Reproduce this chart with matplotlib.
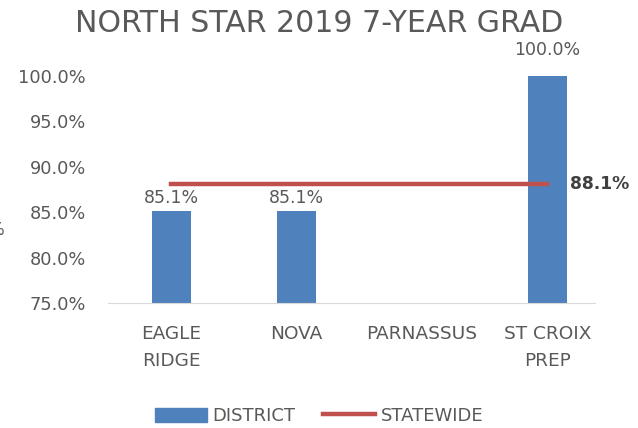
import matplotlib.pyplot as plt
from matplotlib.patches import Patch
from matplotlib.lines import Line2D

schools = ["EAGLE\nRIDGE", "NOVA", "PARNASSUS", "ST CROIX\nPREP"]
district = [85.1, 85.1, None, 100.0]
statewide = [88.1, 88.1, 88.1, 88.1]

BLUE = "#4F81BD"
RED = "#C0504D"
GREY = "#595959"

plt.rcParams["font.family"] = ["DejaVu Sans"]

fig = plt.figure(figsize=(6.38, 4.28), dpi=100)
ax = fig.add_axes([108 / 638, 1 - 303 / 428, 487 / 638, 227 / 428])

x = list(range(len(schools)))
bx = [i for i, v in zip(x, district) if v is not None]
bv = [v for v in district if v is not None]
ax.bar(bx, bv, width=0.31, color=BLUE, zorder=2)
for xi, v in zip(bx, bv):
    # label sitting at the axis top gets pushed up a bit more, like the original
    off = 12 if v >= 100 else 3
    ax.annotate(f"{v:.1f}%", (xi, v), xytext=(0, off),
                textcoords="offset points", ha="center", va="bottom",
                fontsize=12.5, color=GREY)

ax.plot(x, statewide, color=RED, linewidth=3.2, zorder=3)
ax.annotate(f"{statewide[-1]:.1f}%", (x[-1], statewide[-1]), xytext=(16, 0),
            textcoords="offset points", ha="left", va="center",
            fontsize=12.3, color="#404040", fontweight="bold")

ax.set_ylim(75, 100)
ax.set_xlim(-0.503, 3.38)
ax.set_yticks([75, 80, 85, 90, 95, 100])
ax.set_yticklabels([f"{t:.1f}%" for t in [75, 80, 85, 90, 95, 100]])
ax.set_xticks(x)
ax.set_xticklabels(schools, linespacing=1.65)
ax.tick_params(axis="both", length=0, labelsize=12.8, colors=GREY)
ax.tick_params(axis="x", pad=16, labelsize=13.3)
ax.tick_params(axis="y", pad=16)
for s in ["top", "right", "left"]:
    ax.spines[s].set_visible(False)
ax.spines["bottom"].set_color("#D9D9D9")

fig.text(0.5, 1 - 24 / 428, "NORTH STAR 2019 7-YEAR GRAD", ha="center",
         va="center", fontsize=21.6, color=GREY)
fig.text(-0.019, 1 - 230 / 428, "%", ha="left", va="center",
         fontsize=12, color=GREY)

handles = [Patch(color=BLUE), Line2D([0], [0], color=RED, linewidth=3.2)]
fig.legend(handles, ["DISTRICT", "STATEWIDE"], loc="center",
           bbox_to_anchor=(0.5, 1 - 416 / 428), ncol=2, frameon=False,
           fontsize=13, labelcolor=GREY, handlelength=2.9, handleheight=0.8,
           handletextpad=0.3, columnspacing=1.5)

plt.savefig("out.png", dpi=100)
